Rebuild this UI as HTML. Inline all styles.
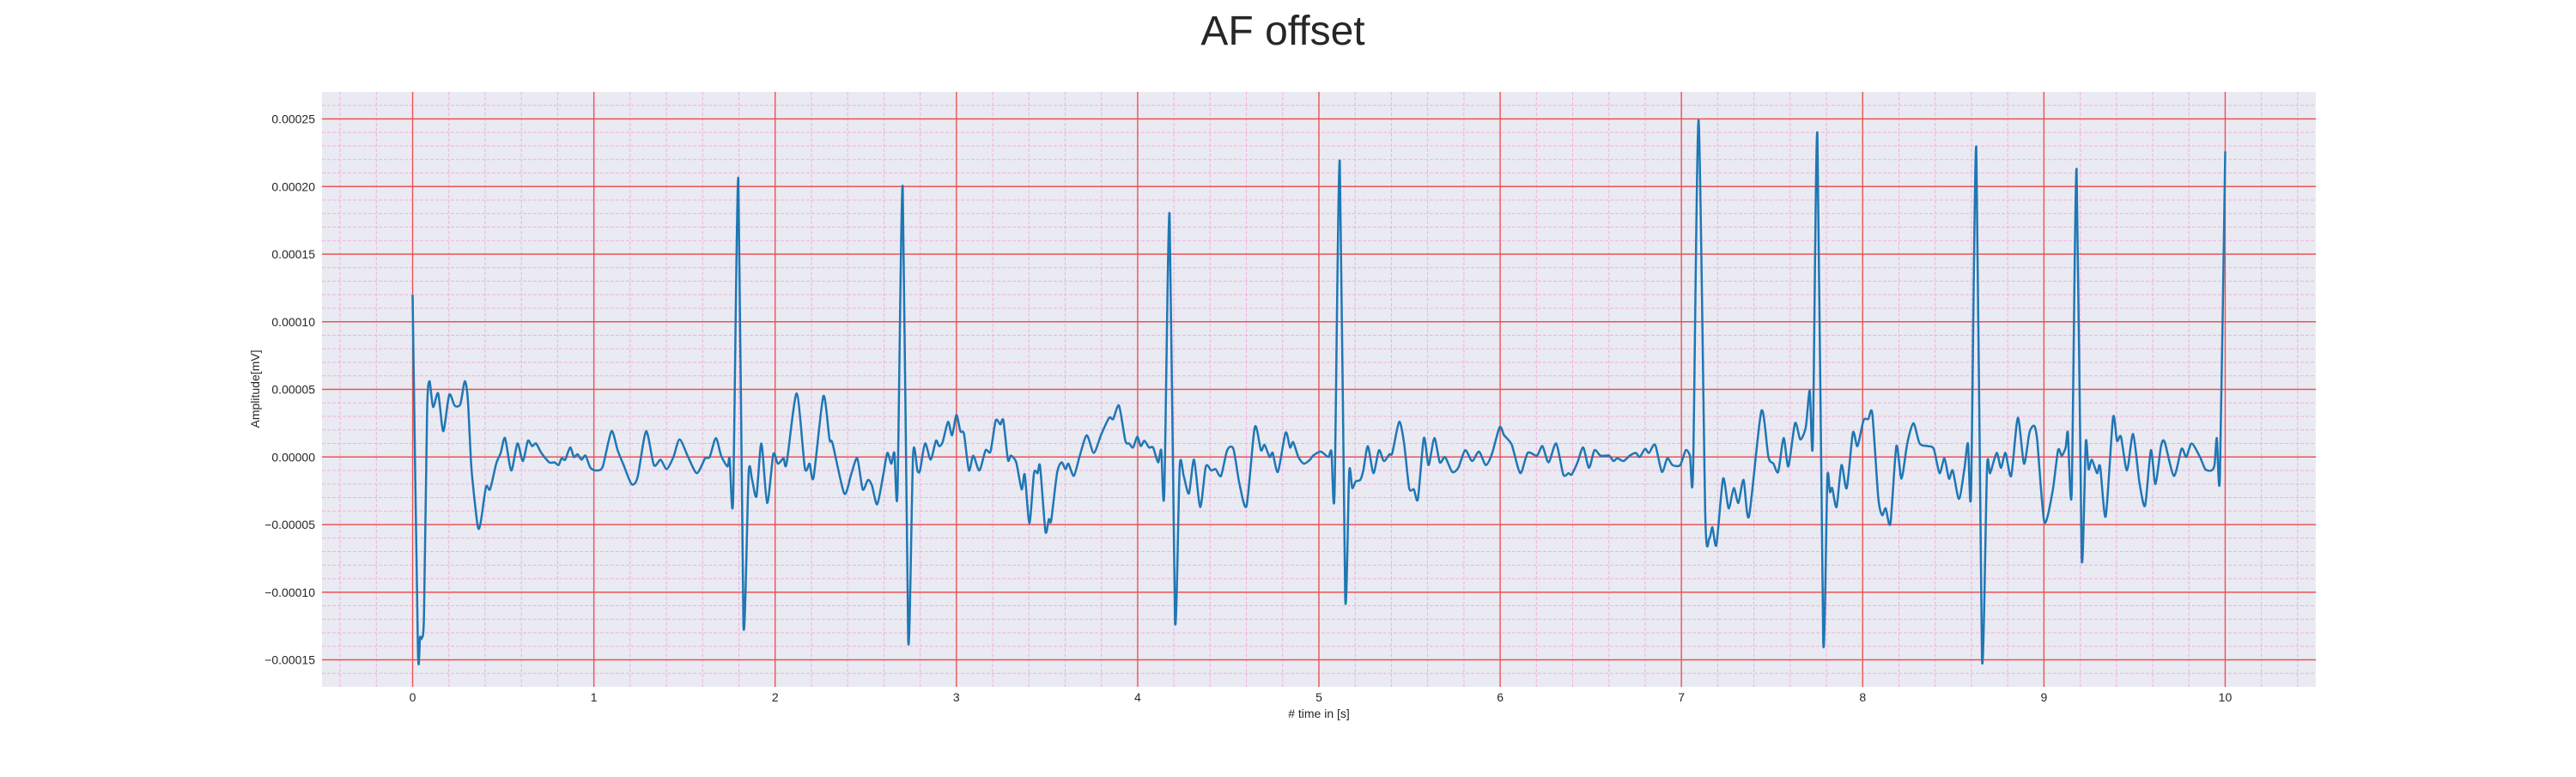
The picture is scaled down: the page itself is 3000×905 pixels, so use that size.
<!DOCTYPE html>
<html>
<head>
<meta charset="utf-8">
<style>
  html, body { margin: 0; padding: 0; background: #ffffff; }
  body { width: 3000px; height: 900px; overflow: hidden; font-family: "Liberation Sans", Arial, sans-serif; }
  svg text { font-family: "Liberation Sans", Arial, sans-serif; fill: #262626; }
</style>
</head>
<body>
<svg id="chart" width="3000" height="900" viewBox="0 0 3000 900" xmlns="http://www.w3.org/2000/svg">
  <text x="1494" y="52" font-size="48" text-anchor="middle">AF offset</text>
  <rect x="375" y="107" width="2322" height="693" fill="#eaeaf2"></rect>
  <g id="minor-grid"></g>
  <g id="major-grid"></g>
  <g id="series"></g>
  <g id="x-ticks"></g>
  <g id="y-ticks"></g>
  <text x="1536" y="836" font-size="14" text-anchor="middle"># time in [s]</text>
  <text x="0" y="0" font-size="14" text-anchor="middle" transform="translate(302,453) rotate(-90)">Amplitude[mV]</text>
</svg>
<script>
// ---- data (time in s, amplitude in mV) ----
const times = [0,0.029,0.041,0.051,0.063,0.08,0.093,0.113,0.141,0.169,0.202,0.232,0.263,0.288,0.305,0.325,0.359,0.376,0.405,0.427,0.461,0.486,0.51,0.544,0.578,0.608,0.636,0.659,0.681,0.71,0.754,0.783,0.805,0.822,0.842,0.869,0.89,0.91,0.932,0.954,0.981,1.015,1.049,1.097,1.131,1.164,1.208,1.241,1.288,1.331,1.368,1.402,1.439,1.473,1.52,1.568,1.614,1.639,1.673,1.702,1.737,1.749,1.768,1.797,1.825,1.854,1.873,1.897,1.924,1.956,1.99,2.015,2.046,2.063,2.119,2.164,2.19,2.212,2.266,2.3,2.317,2.381,2.419,2.453,2.483,2.512,2.534,2.563,2.597,
2.619,2.641,2.658,2.675,2.704,2.734,2.761,2.785,2.799,2.827,2.858,2.887,2.904,2.924,2.954,2.976,3.0,3.022,3.042,3.069,3.093,3.127,3.161,3.188,3.217,3.242,3.259,3.284,3.301,3.33,3.36,3.377,3.403,3.428,3.448,3.462,3.491,3.51,3.523,3.555,3.58,3.602,3.618,3.648,3.679,3.719,3.758,3.8,3.843,3.865,3.897,3.932,3.953,3.975,3.998,4.017,4.037,4.063,4.085,4.113,4.13,4.147,4.176,4.206,4.232,4.254,4.283,4.311,4.345,4.376,4.406,4.43,4.46,4.494,4.528,4.562,4.601,4.646,4.68,4.7,4.728,4.745,4.774,4.816,4.841,4.858,4.887,4.917,4.951,4.968,5.01,5.052,5.069,5.086,5.115,5.145,5.167,5.184,
5.203,5.228,5.245,5.27,5.301,5.331,5.358,5.389,5.405,5.443,5.47,5.498,5.524,5.546,5.579,5.605,5.637,5.667,5.696,5.735,5.769,5.807,5.845,5.883,5.921,5.954,5.997,6.022,6.064,6.111,6.152,6.203,6.233,6.267,6.309,6.348,6.377,6.394,6.427,6.458,6.49,6.52,6.554,6.601,6.625,6.647,6.681,6.715,6.748,6.77,6.799,6.821,6.855,6.892,6.922,6.951,6.993,7.024,7.047,7.064,7.095,7.132,7.154,7.171,7.193,7.23,7.26,7.289,7.314,7.343,7.373,7.441,7.48,7.508,7.534,7.564,7.59,7.627,7.656,7.686,7.708,7.725,7.75,7.782,
7.805,7.819,7.832,7.856,7.883,7.912,7.946,7.971,8.005,8.031,8.053,8.086,8.107,8.127,8.153,8.186,8.214,8.246,8.28,8.314,8.358,8.392,8.424,8.451,8.476,8.497,8.531,8.561,8.581,8.598,8.627,8.658,8.686,8.703,8.739,8.763,8.788,8.819,8.856,8.89,8.92,8.946,8.963,9.002,9.047,9.078,9.098,9.12,9.132,9.153,9.18,9.208,9.231,9.246,9.264,9.293,9.31,9.341,9.381,9.403,9.425,9.458,9.492,9.527,9.558,9.59,9.615,9.646,9.666,9.717,9.759,9.785,9.815,9.861,9.89,9.924,9.941,9.954,9.971,10.0];
const amplitudes = [12.0,-14.1,-13.3,-13.4,-11.6,3.4,5.6,3.7,4.7,1.9,4.6,3.8,3.9,5.6,4.2,-0.9,-5.1,-4.8,-2.2,-2.4,-0.5,0.3,1.4,-1.0,1.0,-0.3,1.2,0.8,1.0,0.3,-0.4,-0.4,-0.6,-0.1,-0.2,0.7,0,0.2,-0.2,0.1,-0.8,-1.0,-0.7,1.9,0.5,-0.6,-2.0,-1.5,1.9,-0.6,-0.2,-0.9,0,1.3,0,-1.2,-0.1,0,1.4,0.1,-0.7,-0.1,-3.1,20.6,-12.4,-1.2,-1.7,-2.9,1.0,-3.4,0.2,-0.5,-0.1,-0.5,4.7,-0.8,-0.5,-1.5,4.5,1.3,1.0,-2.7,-1.3,-0.1,-2.4,-1.7,-2.1,-3.5,-1.3,
0.3,-0.5,0.3,-2.6,20.0,-13.6,0.2,-1.0,-1.0,1.0,-0.2,1.2,0.8,1.1,2.6,1.6,3.1,1.9,1.7,-1.0,0.1,-1.0,0.5,0.4,2.7,2.4,2.7,-0.2,0.1,-0.4,-2.4,-1.3,-4.9,-1.2,-1.2,-0.7,-5.5,-4.6,-4.7,-1.2,-0.4,-0.9,-0.5,-1.4,0,1.6,0.3,1.7,2.9,2.8,3.8,1.2,1.0,0.7,1.5,0.8,1.2,0.7,0.7,-0.4,0.5,-2.7,18.0,-12.1,-0.7,-1.4,-2.7,-0.2,-3.7,-0.7,-1.0,-0.9,-1.4,0.5,0.6,-2.0,-3.6,2.2,0.5,0.9,0,0.3,-1.1,1.8,0.7,1.1,0,-0.5,-0.2,0.1,0.4,0,0.4,-2.7,21.9,-10.4,-1.1,-2.3,
-1.8,-1.7,-1.0,0.8,-1.2,0.5,-0.3,0.2,0.3,2.6,1.0,-2.3,-2.4,-3.1,1.4,-0.6,1.4,-0.4,0,-1.1,-0.8,0.5,-0.3,0.4,-0.6,0.2,2.2,1.6,0.9,-1.2,0.3,0.1,0.8,-0.4,1.0,-1.3,-1.2,-1.3,-0.4,0.7,-0.8,0.5,0.1,0.1,-0.3,-0.1,-0.3,0.1,0.3,0,0.6,0.3,0.9,-1.1,-0.1,-0.6,-0.6,0.5,0.1,-1.1,24.9,-4.4,-6.0,-5.2,-6.5,-1.6,-3.8,-2.3,-3.4,-1.7,-4.4,3.4,0,-0.5,-1.1,1.4,-0.7,2.5,1.3,2.2,4.9,1.0,23.9,-13.6,
-1.6,-2.6,-2.3,-3.7,-0.6,-2.3,1.8,0.8,2.7,2.8,3.2,-3.0,-4.3,-3.8,-4.9,0.8,-1.6,1.0,2.5,1.0,0.8,0.6,-1.2,-0.1,-1.6,-1.0,-3.1,-0.9,1.0,-2.6,22.9,-14.9,-0.8,-1.2,0.3,-0.8,0.3,-1.4,2.9,-0.5,1.8,2.3,1.2,-4.8,-2.6,0.5,0.1,0.7,1.8,-2.6,21.3,-7.4,1.1,-0.9,-0.2,-1.2,-0.7,-4.4,2.9,1.2,1.5,-1.0,1.7,-1.9,-3.6,0.5,-2.0,0.8,1.1,-1.4,0.6,0,1.0,0,-0.9,-1.0,-0.6,1.4,-1.4,22.6];
const amplitudeUnit = 1e-5;
const xTickValues = [0,1,2,3,4,5,6,7,8,9,10];
const xTickLabels = ["0","1","2","3","4","5","6","7","8","9","10"];
const yTickValues = [-0.00015,-0.0001,-0.00005,0,0.00005,0.0001,0.00015,0.0002,0.00025];
const yTickLabels = ["\u22120.00015","\u22120.00010","\u22120.00005","0.00000","0.00005","0.00010","0.00015","0.00020","0.00025"];

// ---- axes ----
const PL = 375, PR = 2697, PT = 107, PB = 800;
const X0 = -0.5, X1 = 10.5, Y0 = -0.00017, Y1 = 0.00027;
function xs(t) { return PL + (t - X0) / (X1 - X0) * (PR - PL); }
function ys(v) { return PB - (v - Y0) / (Y1 - Y0) * (PB - PT); }
const NS = "http://www.w3.org/2000/svg";
function mk(tag, parent) { const e = document.createElementNS(NS, tag); parent.appendChild(e); return e; }

const minor = document.getElementById('minor-grid');
for (let i = -2; i <= 52; i++) {
  const t = i * 0.2;
  if (i % 5 === 0) continue;
  const l = mk('line', minor);
  
  
  l.setAttribute('x1', xs(t)); l.setAttribute('x2', xs(t)); l.setAttribute('y1', PT); l.setAttribute('y2', PB);
  l.setAttribute('stroke', '#f2b0de'); l.setAttribute('stroke-width', '1'); l.setAttribute('stroke-dasharray', '4,2');
}
for (let i = -16; i <= 26; i++) {
  if (i % 5 === 0) continue;
  const v = i * 1e-5;
  const l = mk('line', minor);
  
  
  l.setAttribute('x1', PL); l.setAttribute('x2', PR); l.setAttribute('y1', ys(v)); l.setAttribute('y2', ys(v));
  l.setAttribute('stroke', '#f2b0de'); l.setAttribute('stroke-width', '1'); l.setAttribute('stroke-dasharray', '4,2');
}
const major = document.getElementById('major-grid');
const xt = document.getElementById('x-ticks');
xTickValues.forEach((t, i) => {
  const l = mk('line', major);
  
  
  l.setAttribute('x1', xs(t)); l.setAttribute('x2', xs(t)); l.setAttribute('y1', PT); l.setAttribute('y2', PB);
  l.setAttribute('stroke', '#ec5252'); l.setAttribute('stroke-width', '1.4');
  const tx = mk('text', xt);
  
  
  tx.setAttribute('x', xs(t)); tx.setAttribute('y', 817); tx.setAttribute('font-size', '14'); tx.setAttribute('text-anchor', 'middle');
  tx.textContent = xTickLabels[i];
});
const yt = document.getElementById('y-ticks');
yTickValues.forEach((v, i) => {
  const l = mk('line', major);
  
  
  l.setAttribute('x1', PL); l.setAttribute('x2', PR); l.setAttribute('y1', ys(v)); l.setAttribute('y2', ys(v));
  l.setAttribute('stroke', '#ec5252'); l.setAttribute('stroke-width', '1.4');
  const tx = mk('text', yt);
  
  
  tx.setAttribute('x', 367); tx.setAttribute('y', ys(v) + 5); tx.setAttribute('font-size', '14'); tx.setAttribute('text-anchor', 'end');
  tx.textContent = yTickLabels[i];
});

// ---- series (gently smoothed Catmull-Rom through the points) ----
const series = document.getElementById('series');
const pts = times.map((t, i) => [xs(t), ys(amplitudes[i] * amplitudeUnit)]);
const k = 1 / 8;
let d = 'M' + pts[0][0].toFixed(1) + ',' + pts[0][1].toFixed(1);
for (let i = 0; i < pts.length - 1; i++) {
  const p0 = pts[Math.max(0, i - 1)], p1 = pts[i], p2 = pts[i + 1], p3 = pts[Math.min(pts.length - 1, i + 2)];
  const c1x = p1[0] + (p2[0] - p0[0]) * k, c1y = p1[1] + (p2[1] - p0[1]) * k;
  const c2x = p2[0] - (p3[0] - p1[0]) * k, c2y = p2[1] - (p3[1] - p1[1]) * k;
  d += 'C' + c1x.toFixed(1) + ',' + c1y.toFixed(1) + ' ' + c2x.toFixed(1) + ',' + c2y.toFixed(1) + ' ' + p2[0].toFixed(1) + ',' + p2[1].toFixed(1);
}
const path = mk('path', series);


path.setAttribute('d', d);
path.setAttribute('fill', 'none');
path.setAttribute('stroke', '#1f77b4');
path.setAttribute('stroke-width', '2.5');
path.setAttribute('stroke-linejoin', 'round');
</script>
</body>
</html>
